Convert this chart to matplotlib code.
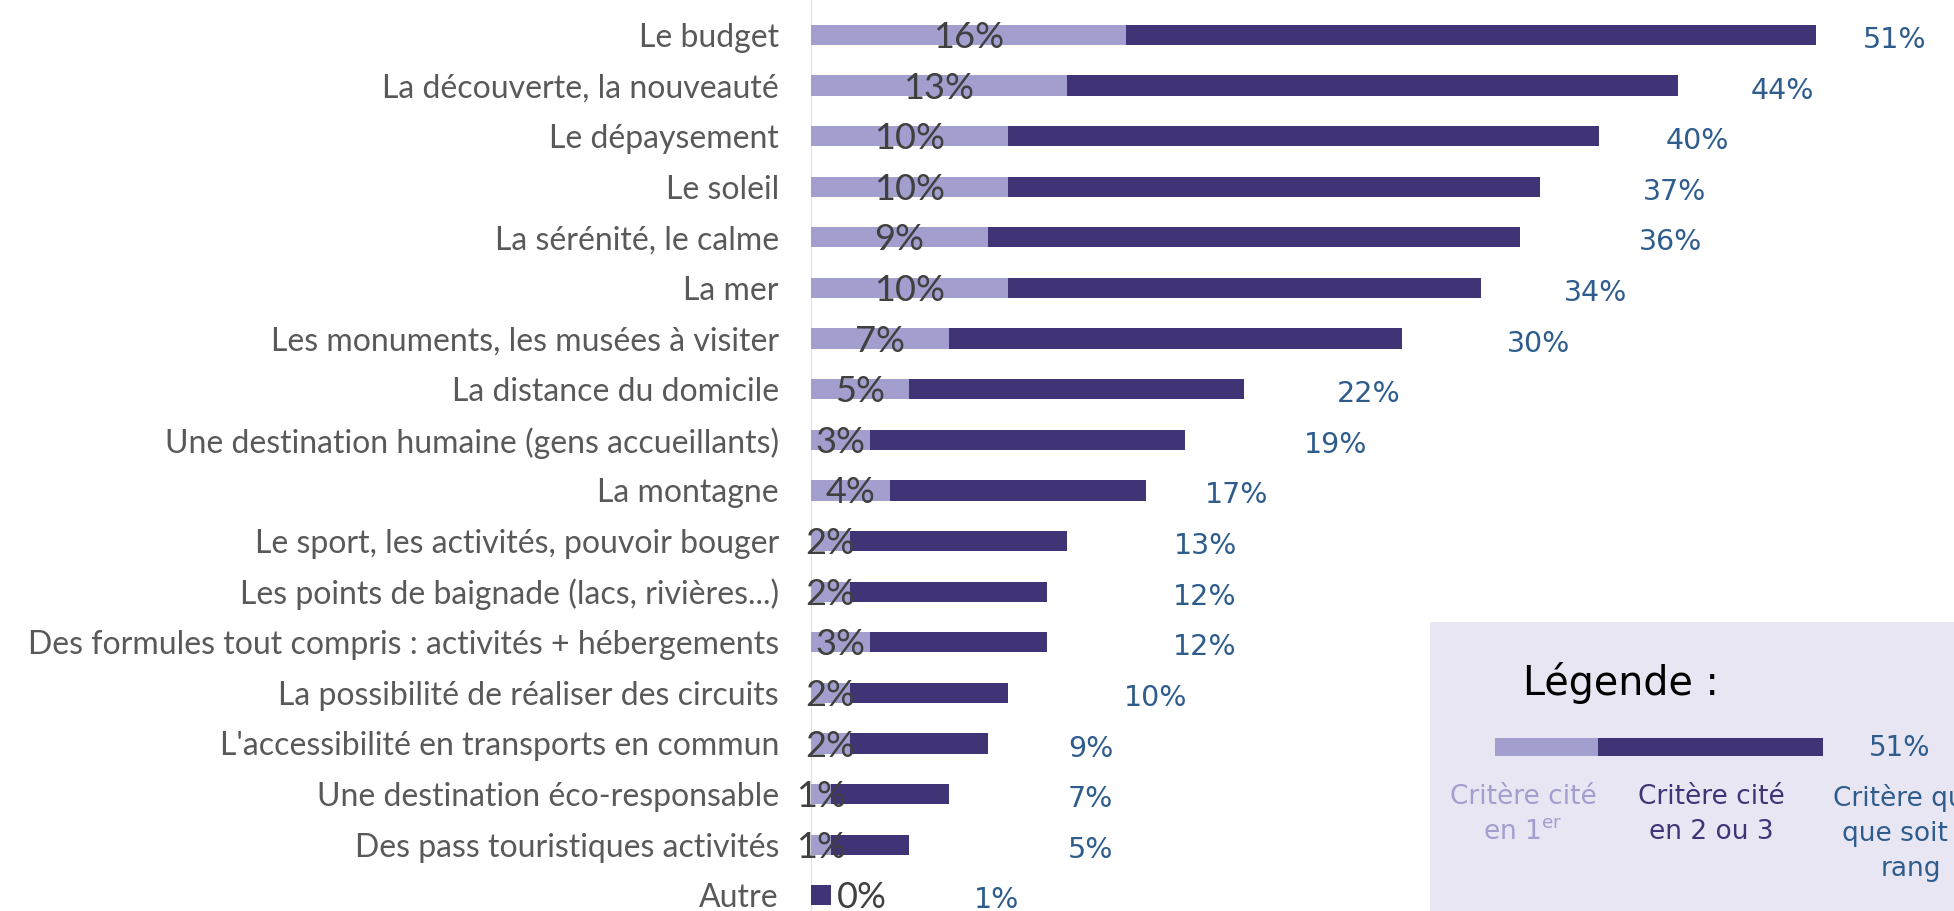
import matplotlib.pyplot as plt
from matplotlib.patches import Rectangle

# Critères de choix d'une destination
categories = ['Le budget', 'La découverte, la nouveauté', 'Le dépaysement', 'Le soleil',
              'La sérénité, le calme', 'La mer', 'Les monuments, les musées à visiter',
              'La distance du domicile', 'Une destination humaine (gens accueillants)',
              'La montagne', 'Le sport, les activités, pouvoir bouger',
              'Les points de baignade (lacs, rivières...)',
              'Des formules tout compris : activités + hébergements',
              'La possibilité de réaliser des circuits',
              "L'accessibilité en transports en commun",
              'Une destination éco-responsable', 'Des pass touristiques activités', 'Autre']
first = [16, 13, 10, 10, 9, 10, 7, 5, 3, 4, 2, 2, 3, 2, 2, 1, 1, 0]
total = [51, 44, 40, 37, 36, 34, 30, 22, 19, 17, 13, 12, 12, 10, 9, 7, 5, 1]
# where the "total" labels sit (moved by hand in the original)
total_label_x = [55.0, 49.3, 45.0, 43.8, 43.6, 39.8, 36.9, 28.3, 26.6, 21.6, 20.0, 20.0,
                 20.0, 17.5, 14.2, 14.2, 14.2, 9.4]

light = '#A29ECE'
dark = '#403476'
blue = '#2E5C8C'

fig = plt.figure(figsize=(19.54, 9.11), dpi=100)
ax = fig.add_axes([0.415, 0, 0.585, 1])

y = list(range(len(categories)))
rest = [t - f for t, f in zip(total, first)]
ax.barh(y, first, height=0.4, color=light)
ax.barh(y, rest, left=first, height=0.4, color=dark)
ax.axvline(0, color='#D9D9D9', lw=1.2, zorder=0)

for i in y:
    if first[i] > 0:
        ax.text(first[i] / 2, i + 0.05, f'{first[i]}%', ha='center', va='center',
                fontsize=26, color='#404040', family=['Liberation Sans Narrow', 'Lato'])
    else:
        ax.text(total[i] + 0.3, i + 0.05, f'{first[i]}%', ha='left', va='center',
                fontsize=26, color='#404040', family=['Liberation Sans Narrow', 'Lato'])
    ax.text(total_label_x[i], i + 0.1, f'{total[i]}%', ha='center', va='center',
            fontsize=20.5, color=blue, family='DejaVu Sans')

ax.set_yticks(y)
ax.set_yticklabels(categories, fontsize=23, color='#595959', family=['Lato'])
ax.tick_params(axis='y', length=0, pad=23)
ax.set_xticks([])
ax.set_xlim(0, 58.0)
ax.set_ylim(17.31, -0.69)
for s in ax.spines.values():
    s.set_visible(False)

# legend box
lg = fig.add_axes([1430 / 1954, 0, 524 / 1954, 289 / 911])
lg.set_xlim(0, 524)
lg.set_ylim(289, 0)
lg.axis('off')
lg.add_patch(Rectangle((0, 0), 524, 289, color='#E8E6F2', zorder=0))
lg.text(93, 61, 'Légende :', fontsize=28.5, color='black', va='center', family='DejaVu Sans')
scale = 328 / total[0]
lg.barh(125, first[0] * scale, left=65, height=18, color=light)
lg.barh(125, (total[0] - first[0]) * scale, left=65 + first[0] * scale, height=18, color=dark)
lg.text(470, 126, f'{total[0]}%', fontsize=20, color=blue, ha='center', va='center',
        family='DejaVu Sans')
lg.text(93, 162, 'Critère cité\nen 1$^{\\mathregular{er}}$', fontsize=19, color=light,
        ha='center', va='top', linespacing=1.45, family='DejaVu Sans')
lg.text(281, 162, 'Critère cité\nen 2 ou 3', fontsize=19, color=dark,
        ha='center', va='top', linespacing=1.45, family='DejaVu Sans')
lg.text(481, 162, 'Critère quel\nque soit le\nrang', fontsize=19, color=blue,
        ha='center', va='top', linespacing=1.45, family='DejaVu Sans', clip_on=False)

fig.savefig('out.png', dpi=100)
